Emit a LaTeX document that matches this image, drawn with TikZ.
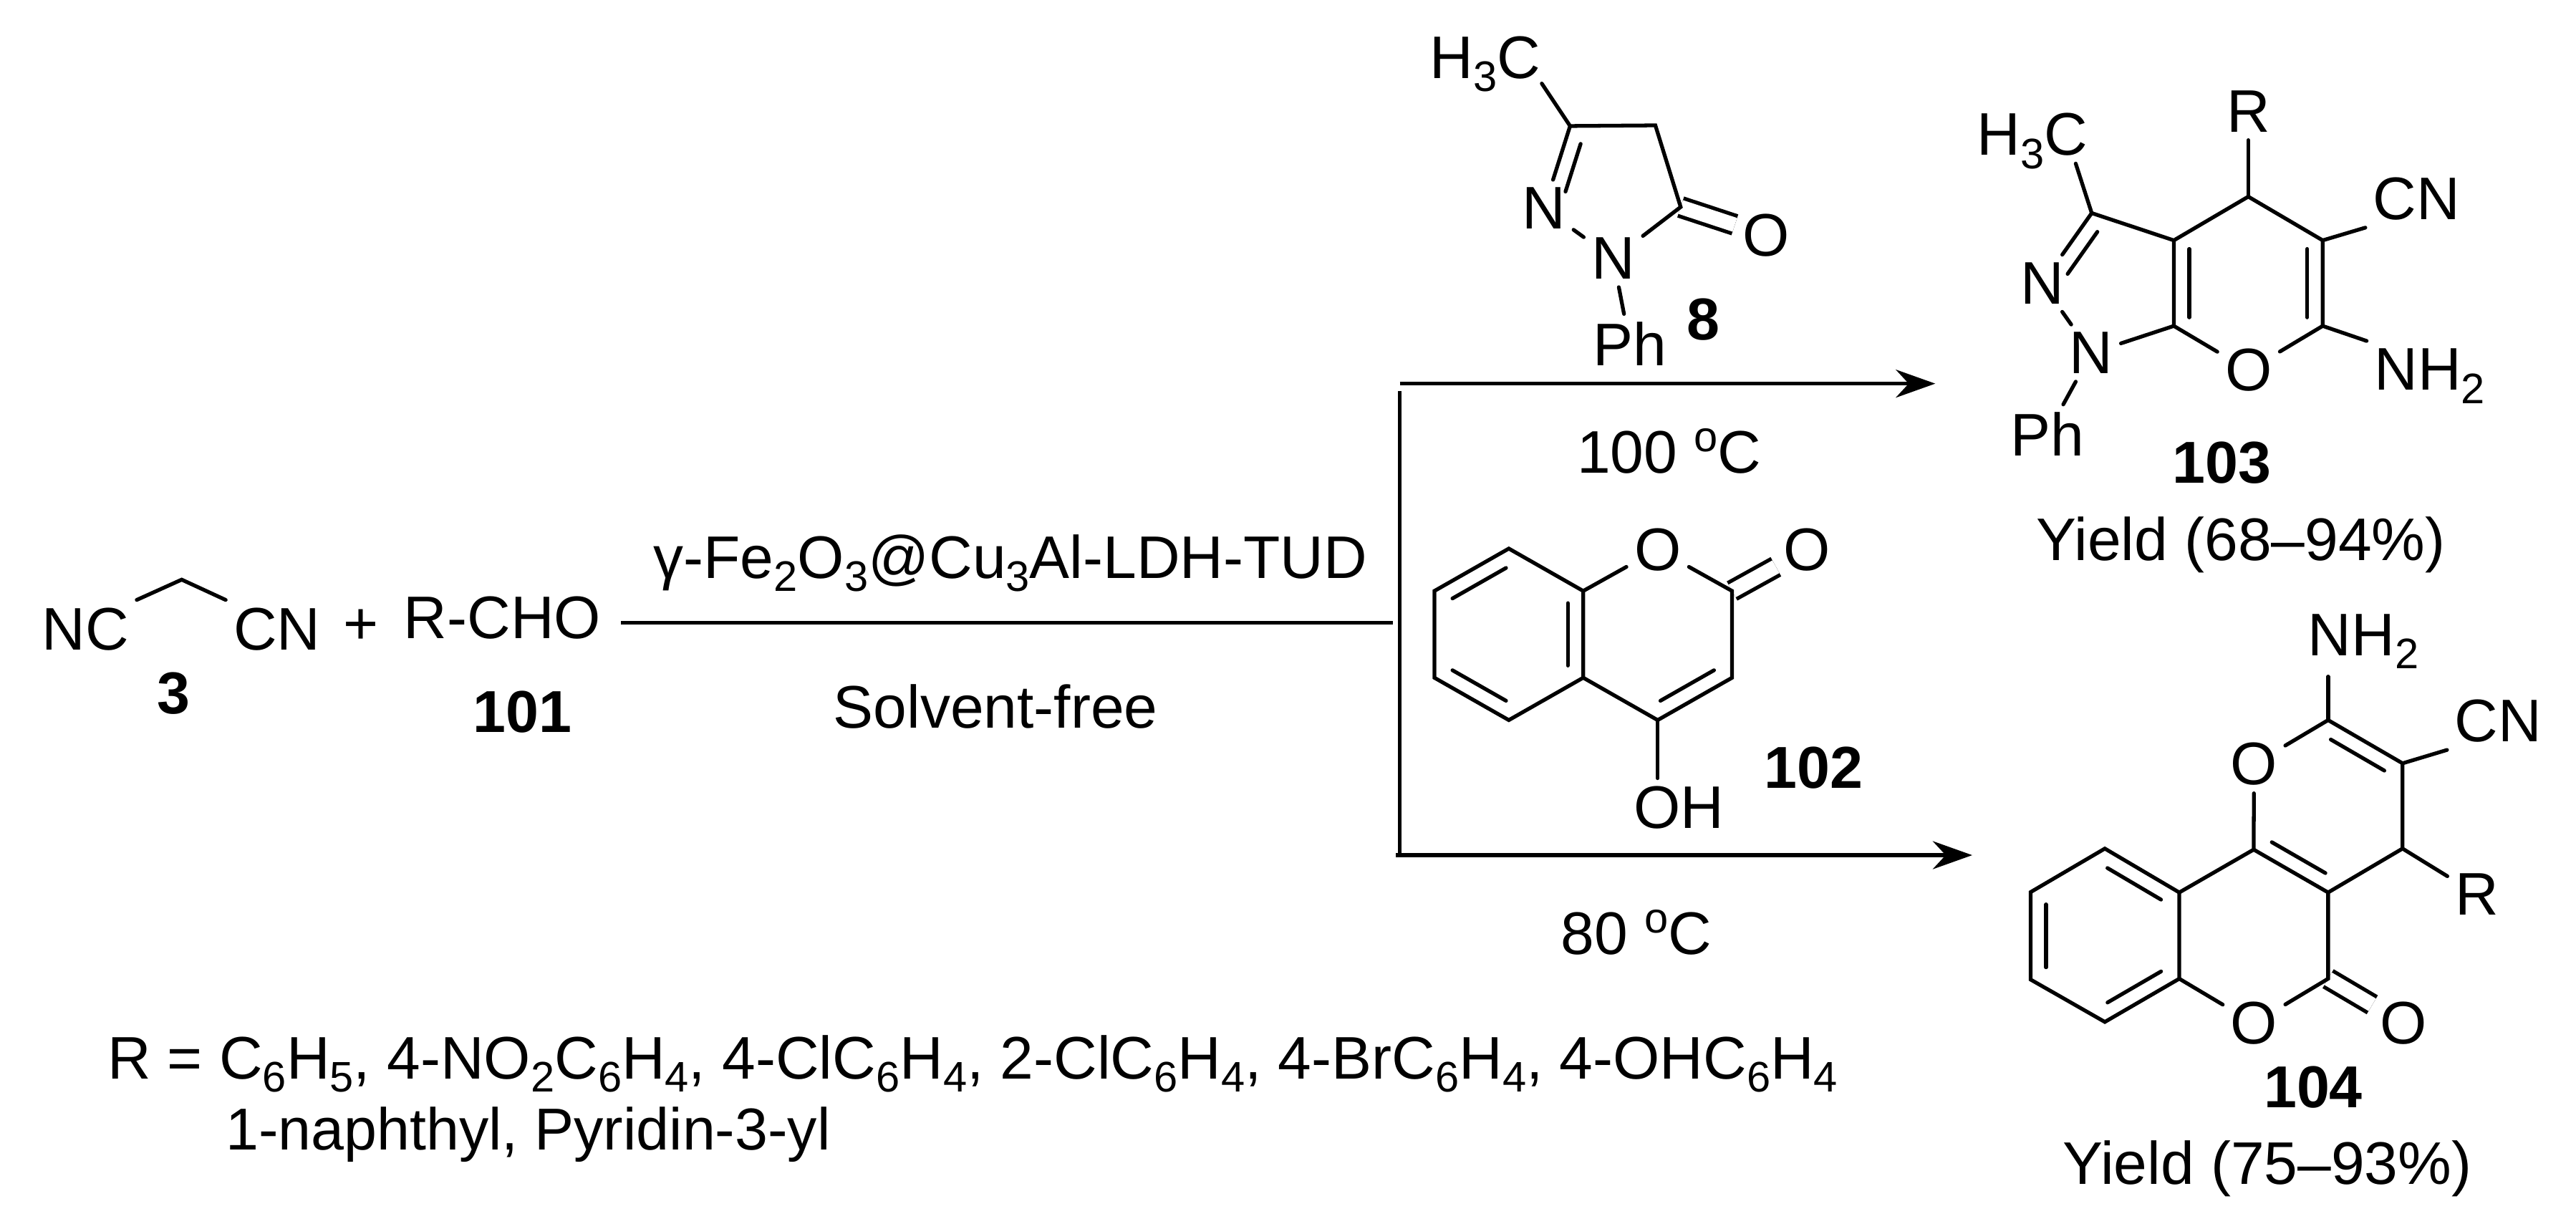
\documentclass[tikz,border=0pt]{standalone}
\usepackage{fontspec}
\setmainfont{Liberation Sans}
\usetikzlibrary{arrows.meta,calc}

\newcommand{\low}[1]{\raisebox{-4pt}{\fontsize{13}{13}\selectfont #1}}
\newcommand{\high}[1]{\raisebox{6.5pt}{\fontsize{13}{13}\selectfont #1}}
% second stroke of a ring double bond, on the left of a->b
\newcommand{\innerbond}[4]{\draw[bond] ($(#1)!#3!(#2)!4.7pt!90:(#2)$) -- ($(#2)!#4!(#1)!4.7pt!-90:(#1)$);}

\tikzset{
	atom/.style={anchor=base, inner sep=2.2pt, font=\fontsize{18.3}{20}\selectfont},
	txt/.style={anchor=base, inner sep=0pt, font=\fontsize{18.3}{20}\selectfont},
	cmpd/.style={anchor=base, inner sep=0pt, font=\fontsize{18}{20}\selectfont\bfseries},
	bond/.style={line width=1.15pt, line cap=round},
	dbond/.style={line width=1.15pt, double, double distance=4.4pt},
	rxnline/.style={line width=1.15pt},
	rxnarrow/.style={line width=1.15pt, -{Stealth[length=12pt,width=8.5pt]}},
}

\begin{document}
\begin{tikzpicture}[x=.5pt,y=-.5pt]
\useasboundingbox (0,0) rectangle (1568,748);

%malononitrile and aldehyde
\node[atom] (ncL) at (52,395.5) {NC};
\node[atom] (ncR) at (168.6,395.5) {CN};
\coordinate (ncC) at (110.6,352.8);
\draw[bond] (ncL.north east) -- (ncC) -- (ncR.north west);
\node[txt] (plus) at (219.6,392) {+};
\node[txt] (rcho) at (305.8,388.5) {R-CHO};
\node[cmpd] (lab3) at (105.7,434.3) {3};
\node[cmpd] (lab101) at (318,445.6) {101};

%catalyst line and branches
\coordinate (lineL) at (378,379);
\coordinate (lineR) at (848,379);
\coordinate (topS) at (852,233.5);
\coordinate (topE) at (1178,233.5);
\coordinate (vertS) at (852,238);
\coordinate (vertE) at (852,520.5);
\coordinate (botS) at (849.5,520.5);
\coordinate (botE) at (1200.5,520.5);
\draw[rxnline] (lineL) -- (lineR);
\draw[rxnline] (vertS) -- (vertE);
\draw[rxnarrow] (topS) -- (topE);
\draw[rxnarrow] (botS) -- (botE);
\node[txt] (cat) at (615,352) {γ-Fe\low{2}O\low{3}@Cu\low{3}Al-LDH-TUD};
\node[txt] (solv) at (606,443) {Solvent-free};
\node[txt] (tempA) at (1016,288) {100 \high{o}C};
\node[txt] (tempB) at (996,581) {80 \high{o}C};

%pyrazolone 8
\coordinate (p3) at (955.7,76.7);
\coordinate (p4) at (1007.6,76.3);
\coordinate (p5) at (1023,126);
\node[atom] (pN2) at (939.8,139.4) {N};
\node[atom] (pN1) at (982,170) {N};
\node[atom] (pO) at (1075,155.7) {O};
\node[atom] (pMe) at (904,47.8) {H\low{3}C};
\node[atom] (pPh) at (992,222.4) {Ph};
\node[cmpd] (lab8) at (1037,206.8) {8};
\draw[dbond] (p5) -- (pO);
\draw[bond] ([xshift=-2pt,yshift=5pt]pMe.south east) -- (p3) -- (p4) -- (p5) -- (pN1) -- (pN2) -- (p3);
\draw[bond] (pN1) -- (pPh);
\innerbond{p3}{pN2}{.16}{.26}

%product 103
\coordinate (q3) at (1273.2,129.7);
\coordinate (q3a) at (1323.2,146.3);
\coordinate (q4) at (1368.5,119.7);
\coordinate (q5) at (1413.8,146.3);
\coordinate (q6) at (1413.8,198.4);
\coordinate (q7a) at (1323.2,198.4);
\node[atom] (qN2) at (1243,185) {N};
\node[atom] (qN1) at (1273,227.5) {N};
\node[atom] (qO) at (1368.7,238) {O};
\node[atom] (qR) at (1368.5,80.5) {R};
\node[atom] (qCN) at (1471,133.4) {CN};
\node[atom] (qNH) at (1479,237.5) {NH\low{2}};
\node[atom] (qMe) at (1237,94.5) {H\low{3}C};
\node[atom] (qPh) at (1246,277.5) {Ph};
\node[cmpd] (lab103) at (1352.5,294) {103};
\node[txt] (yieldA) at (1364,341) {Yield (68–94\%)};
\draw[bond] ([xshift=-6pt,yshift=4pt]qMe.south east) -- (q3) -- (q3a) -- (q4) -- (q5) -- (q6) -- (qO) -- (q7a) -- (q3a);
\draw[bond] (q3) -- (qN2) -- (qN1) -- (q7a);
\draw[bond] (q4) -- (qR);
\draw[bond] (q5) -- (qCN.south west);
\draw[bond] (q6) -- (qNH.north west);
\draw[bond] (qN1) -- (qPh);
\innerbond{q3}{qN2}{.14}{.26}
\innerbond{q3a}{q7a}{.1}{.1}
\innerbond{q6}{q5}{.1}{.1}

%coumarin 102
\coordinate (k8a) at (963.7,359.7);
\coordinate (k2) at (1054.3,359.7);
\coordinate (k3) at (1054.3,412.5);
\coordinate (k4) at (1009,438.3);
\coordinate (k4a) at (963.7,412.5);
\coordinate (k5) at (918.4,438.3);
\coordinate (k6) at (873.1,412.5);
\coordinate (k7) at (873.1,359.7);
\coordinate (k8) at (918.4,333.9);
\node[atom] (kO) at (1009,347) {O};
\node[atom] (kOx) at (1100,347) {O};
\node[atom] (kOH) at (1022,504) {OH};
\node[cmpd] (lab102) at (1104,479.6) {102};
\draw[dbond] (k2) -- (kOx);
\draw[bond] (k8a) -- (k8) -- (k7) -- (k6) -- (k5) -- (k4a) -- (k8a) -- (kO) -- (k2) -- (k3) -- (k4) -- (k4a);
\draw[bond] (k4) -- (k4 |- kOH.north);
\innerbond{k8}{k7}{.14}{.14}
\innerbond{k6}{k5}{.14}{.14}
\innerbond{k4a}{k8a}{.14}{.14}
\innerbond{k4}{k3}{.14}{.14}

%product 104
\coordinate (w2) at (1417.1,438.3);
\coordinate (w3) at (1462.4,464.6);
\coordinate (w4) at (1462.4,516.5);
\coordinate (w4a) at (1417.1,543.2);
\coordinate (w5) at (1417.1,595.7);
\coordinate (w6a) at (1326.5,595.7);
\coordinate (w7) at (1281.2,622);
\coordinate (w8) at (1236,596.2);
\coordinate (w9) at (1236,543);
\coordinate (w10) at (1281.2,516.5);
\coordinate (w10a) at (1326.5,543.2);
\coordinate (w10b) at (1371.8,517.1);
\node[atom] (wO1) at (1372,477.7) {O};
\node[atom] (wO6) at (1372,635.4) {O};
\node[atom] (wOx) at (1463,635.4) {O};
\node[atom] (wNH) at (1438.5,399) {NH\low{2}};
\node[atom] (wCN) at (1520.7,451.3) {CN};
\node[atom] (wR) at (1507.7,557) {R};
\node[cmpd] (lab104) at (1408,674.2) {104};
\node[txt] (yieldB) at (1380,720.6) {Yield (75–93\%)};
\draw[dbond] (w5) -- (wOx);
\draw[bond] (wO1) -- (w2) -- (w3) -- (w4) -- (w4a) -- (w5) -- (wO6) -- (w6a) -- (w7) -- (w8) -- (w9) -- (w10) -- (w10a) -- (w6a);
\draw[bond] (w10a) -- (w10b) -- (wO1);
\draw[bond] (w10b) -- (w4a);
\draw[bond] (w2) -- (w2 |- wNH.south);
\draw[bond] (w3) -- (wCN.south west);
\draw[bond] (w4) -- (wR);
\innerbond{w3}{w2}{.14}{.14}
\innerbond{w10b}{w4a}{.14}{.14}
\innerbond{w9}{w8}{.14}{.14}
\innerbond{w7}{w6a}{.14}{.14}
\innerbond{w10a}{w10}{.14}{.14}

%substituents
\node[txt, anchor=base west] (rline) at (65,656.7) {R = C\low{6}H\low{5}, 4-NO\low{2}C\low{6}H\low{4}, 4-ClC\low{6}H\low{4}, 2-ClC\low{6}H\low{4}, 4-BrC\low{6}H\low{4}, 4-OHC\low{6}H\low{4}};
\node[txt, anchor=base west, font=\fontsize{18}{20}\selectfont] (rlineB) at (137,700) {1-naphthyl, Pyridin-3-yl};
\end{tikzpicture}
\end{document}
